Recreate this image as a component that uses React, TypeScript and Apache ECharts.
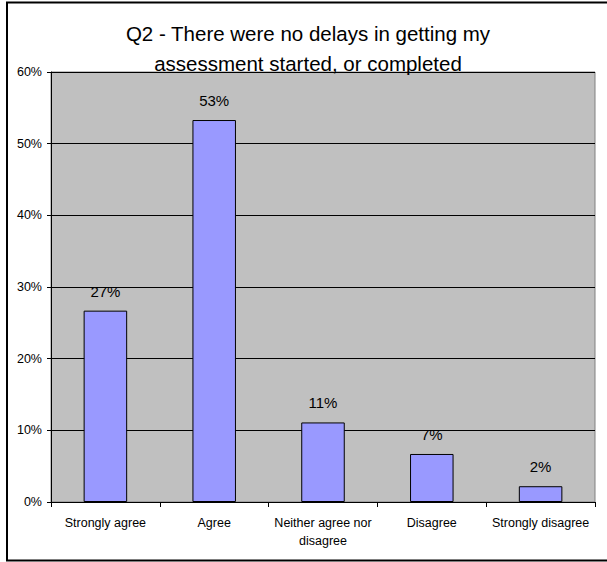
import React, { useEffect, useRef } from "react";
import * as echarts from "echarts";

const titleLines = ["Q2 - There were no delays in getting my", "assessment started, or completed"];
const categories = ["Strongly agree", "Agree", "Neither agree nor\ndisagree", "Disagree", "Strongly disagree"];
const values = [0.267, 0.533, 0.111, 0.067, 0.022];
const yMin = 0;
const yMax = 0.6;
const yStep = 0.1;

const FONT = "'Liberation Sans', Arial, sans-serif";

export default function App() {
  const ref = useRef<HTMLDivElement>(null);
  useEffect(() => {
    if (!ref.current) return;
    const chart = echarts.init(ref.current, null, { renderer: "svg" });
    chart.setOption({
      animation: false,
      backgroundColor: "#ffffff",
      textStyle: { fontFamily: FONT },
      title: {
        text: titleLines.join("\n"),
        left: 308,
        top: 18,
        padding: 0,
        textAlign: "center",
        textStyle: { fontFamily: FONT, fontSize: 20.5, fontWeight: "normal", color: "#000", lineHeight: 30 },
      },
      graphic: [
        {
          type: "rect",
          shape: { x: 7, y: 2.5, width: 640, height: 558 },
          style: { fill: "none", stroke: "#000", lineWidth: 2 },
          silent: true,
          z: 100,
        },
      ],
      grid: {
        left: 51,
        right: 12,
        top: 72,
        bottom: 60,
        show: true,
        backgroundColor: "#C0C0C0",
        borderColor: "#808080",
        borderWidth: 1,
      },
      xAxis: {
        type: "category",
        data: categories,
        boundaryGap: true,
        axisLine: { show: true, lineStyle: { color: "#000", width: 1 } },
        axisTick: { show: true, length: 5, alignWithLabel: false, lineStyle: { color: "#000" } },
        axisLabel: {
          interval: 0,
          margin: 12,
          fontSize: 12.5,
          lineHeight: 18,
          color: "#000",
          fontFamily: FONT,
        },
      },
      yAxis: {
        type: "value",
        min: yMin,
        max: yMax,
        interval: yStep,
        axisLine: { show: true, lineStyle: { color: "#000", width: 1 } },
        axisTick: { show: true, length: 4, lineStyle: { color: "#000" } },
        splitLine: { show: true, lineStyle: { color: "#000", width: 1 } },
        axisLabel: {
          margin: 9,
          fontSize: 12.5,
          color: "#000",
          fontFamily: FONT,
          formatter: (v: number) => Math.round(v * 100) + "%",
        },
      },
      series: [
        {
          type: "bar",
          data: values,
          barWidth: "40%",
          itemStyle: { color: "#9999FF", borderColor: "#000", borderWidth: 1 },
          label: {
            show: true,
            position: "top",
            distance: 12,
            fontSize: 15,
            color: "#000",
            fontFamily: FONT,
            formatter: (p: any) => Math.round(p.value * 100) + "%",
          },
        },
      ],
    });
    return () => chart.dispose();
  }, []);
  return (
    <div
      ref={ref}
      style={{ position: "fixed", left: 0, top: 0, width: 607, height: 562, background: "#fff" }}
    />
  );
}
